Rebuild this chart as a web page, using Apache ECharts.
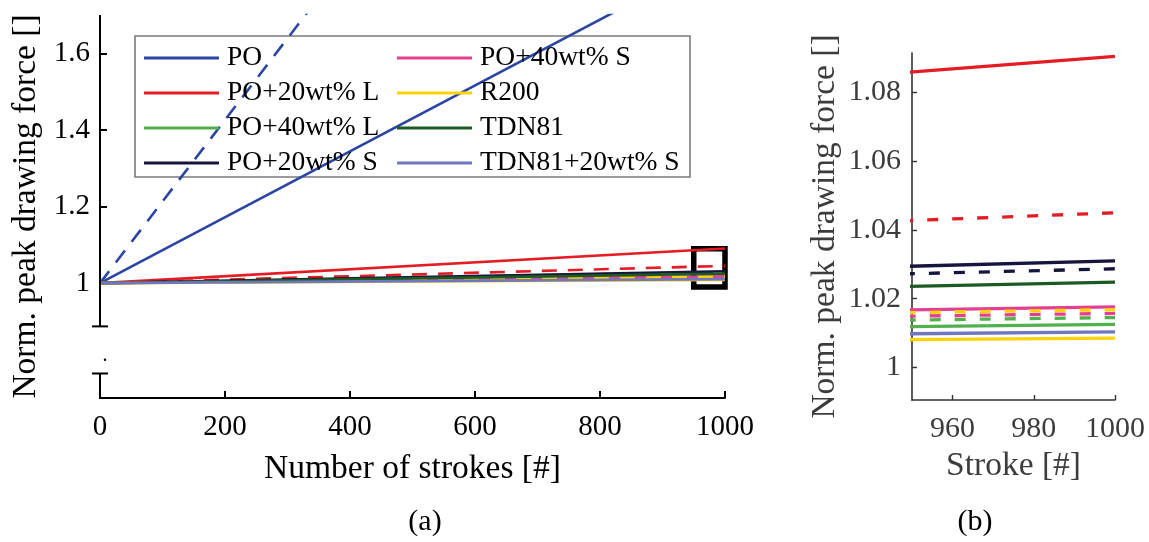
<!DOCTYPE html>
<html>
<head>
<meta charset="utf-8">
<script src="https://cdn.jsdelivr.net/npm/echarts@6/dist/echarts.min.js"></script>
<style>
  html, body { margin: 0; padding: 0; background: #fff; }
  #chart { width: 1149px; height: 542px; }
</style>
</head>
<body>
<div id="chart"></div>
<script>
// Stroke numbers at which the normalised peak drawing force is given
const strokes = [0, 1000];

// Materials (legend order) and their colours
const materials = ['PO', 'PO+20wt% L', 'PO+40wt% L', 'PO+20wt% S',
                   'PO+40wt% S', 'R200', 'TDN81', 'TDN81+20wt% S'];
const colors = ['#2b45a3', '#e41d24', '#52b04f', '#15153d',
                '#e3408f', '#fcd20a', '#1c5c22', '#7077c2'];

// Normalised peak drawing force at stroke 0 and stroke 1000 (solid curves)
const solidPO     = [1, 1.86];
const solidL20    = [1, 1.0905];
const solidL40    = [1, 1.0125];
const solidS20    = [1, 1.031];
const solidS40    = [1, 1.0176];
const solidR200   = [1, 1.0085];
const solidTDN    = [1, 1.0248];
const solidTDNS20 = [1, 1.0103];

// Dashed curves (no dashed curve for TDN81 and TDN81+20wt% S)
const dashedPO   = [1, 3.13];
const dashedL20  = [1, 1.045];
const dashedL40  = [1, 1.0145];
const dashedS20  = [1, 1.0287];
const dashedS40  = [1, 1.0157];
const dashedR200 = [1, 1.0168];

const solidSets  = [solidPO, solidL20, solidL40, solidS20, solidS40, solidR200, solidTDN, solidTDNS20];
const dashedSets = [dashedPO, dashedL20, dashedL40, dashedS20, dashedS40, dashedR200, null, null];

// Axis ranges and ticks
const xRangeA = [0, 1000];
const yRangeA = [0.7, 1.7];
const yTicksA = [1, 1.2, 1.4, 1.6];
const yBreakA = [0.764, 0.887];   // gap in the left axis of panel (a)
const yBreakDotA = 0.8;
const zoomX = [950, 1000];        // detail window framed in (a), enlarged in (b)
const zoomY = [0.99, 1.09];
const yRangeB = [0.9905, 1.0915];
const xTicksB = [960, 980, 1000];
const yTicksB = [1, 1.02, 1.04, 1.06, 1.08];

const FONT = "'Liberation Serif', 'Times New Roman', serif";
const GRAY = '#3c3c3c';
const plain = v => String(v);

const chart = echarts.init(document.getElementById('chart'), null, { renderer: 'canvas' });

function pairs(vals) { return strokes.map((s, i) => [s, vals[i]]); }

const series = [];
materials.forEach((name, i) => {
  [0, 1].forEach(panel => {
    const common = {
      type: 'line', name: name, xAxisIndex: panel, yAxisIndex: panel,
      symbol: 'none', silent: true, animation: false, clip: true
    };
    series.push(Object.assign({}, common, {
      data: pairs(solidSets[i]),
      lineStyle: { color: colors[i], width: panel ? 3.3 : 2.6, type: 'solid' },
      itemStyle: { color: colors[i] }
    }));
    if (dashedSets[i]) {
      series.push(Object.assign({}, common, {
        data: pairs(dashedSets[i]),
        lineStyle: { color: colors[i], width: panel ? 3.3 : 2.6,
                     type: panel ? [11, 14] : [15, 11] },
        itemStyle: { color: colors[i] }
      }));
    }
  });
});

// Frame in panel (a) marking the window enlarged in panel (b)
series.push({
  type: 'line', name: 'frame', xAxisIndex: 0, yAxisIndex: 0, data: [],
  silent: true, animation: false, clip: false, z: 5,
  markArea: {
    silent: true,
    itemStyle: { color: 'rgba(0,0,0,0)', borderColor: '#000', borderWidth: 5.5 },
    data: [[{ coord: [zoomX[0], zoomY[1]] }, { coord: [zoomX[1], zoomY[0]] }]]
  }
});

const legendCommon = {
  orient: 'vertical', top: 44, padding: 0, itemGap: 7,
  itemWidth: 75, itemHeight: 3, icon: 'rect', z: 6, selectedMode: false,
  textStyle: { fontFamily: FONT, fontSize: 27.5, color: '#000', lineHeight: 26,
               padding: [0, 0, 0, 3] }
};

const option = {
  backgroundColor: '#fff',
  animation: false,
  grid: [
    { left: 100, top: 15, width: 625, height: 383 },
    { left: 912, top: 53, width: 203, height: 347 }
  ],
  xAxis: [
    {
      type: 'value', gridIndex: 0, min: xRangeA[0], max: xRangeA[1], interval: 200,
      name: 'Number of strokes [#]', nameLocation: 'middle', nameGap: 54,
      nameTextStyle: { fontFamily: FONT, fontSize: 33.5, color: '#000' },
      axisLine: { show: true, onZero: false, lineStyle: { color: '#000', width: 2 } },
      axisTick: { show: true, inside: true, length: 7, lineStyle: { color: '#000', width: 2 } },
      axisLabel: { fontFamily: FONT, fontSize: 29, color: '#000', margin: 15, formatter: plain },
      splitLine: { show: false }
    },
    {
      type: 'value', gridIndex: 1, min: zoomX[0], max: zoomX[1],
      name: 'Stroke [#]', nameLocation: 'middle', nameGap: 46,
      nameTextStyle: { fontFamily: FONT, fontSize: 33.5, color: GRAY },
      axisLine: { show: true, onZero: false, lineStyle: { color: '#333', width: 1.6 } },
      axisTick: { show: true, inside: true, length: 5, customValues: xTicksB,
                  lineStyle: { color: '#333', width: 1.4 } },
      axisLabel: { fontFamily: FONT, fontSize: 30, color: GRAY, margin: 14,
                   customValues: xTicksB, formatter: plain },
      splitLine: { show: false }
    }
  ],
  yAxis: [
    {
      type: 'value', gridIndex: 0, min: yRangeA[0], max: yRangeA[1],
      name: 'Norm. peak drawing force []', nameLocation: 'middle', nameGap: 56,
      nameTextStyle: { fontFamily: FONT, fontSize: 33.5, color: '#000' },
      axisLine: { show: false },
      axisTick: { show: true, inside: true, length: 7, customValues: yTicksA,
                  lineStyle: { color: '#000', width: 2 } },
      axisLabel: { fontFamily: FONT, fontSize: 29, color: '#000', margin: 10,
                   customValues: yTicksA, formatter: plain },
      splitLine: { show: false }
    },
    {
      type: 'value', gridIndex: 1, min: yRangeB[0], max: yRangeB[1],
      name: 'Norm. peak drawing force []', nameLocation: 'middle', nameGap: 70,
      nameTextStyle: { fontFamily: FONT, fontSize: 33.5, color: GRAY },
      axisLine: { show: true, onZero: false, lineStyle: { color: '#333', width: 1.6 } },
      axisTick: { show: true, inside: true, length: 5, customValues: yTicksB,
                  lineStyle: { color: '#333', width: 1.4 } },
      axisLabel: { fontFamily: FONT, fontSize: 30, color: GRAY, margin: 11,
                   customValues: yTicksB, formatter: plain },
      splitLine: { show: false }
    }
  ],
  legend: [
    Object.assign({}, legendCommon, { left: 144, data: materials.slice(0, 4) }),
    Object.assign({}, legendCommon, { left: 397, data: materials.slice(4) })
  ],
  series: series
};

chart.setOption(option);

// Broken left axis of panel (a), legend frame and panel captions
function px(x, y) { return chart.convertToPixel({ gridIndex: 0 }, [x, y]); }
const pTop = px(xRangeA[0], yRangeA[1]);
const pBreakHi = px(xRangeA[0], yBreakA[1]);
const pBreakLo = px(xRangeA[0], yBreakA[0]);
const pBottom = px(xRangeA[0], yRangeA[0]);
const pDot = px(xRangeA[0], yBreakDotA);
const axisStyle = { stroke: '#000', lineWidth: 2 };

chart.setOption({
  graphic: [
    { type: 'line', z: 10, shape: { x1: pTop[0], y1: pTop[1], x2: pBreakHi[0], y2: pBreakHi[1] }, style: axisStyle },
    { type: 'line', z: 10, shape: { x1: pBreakLo[0], y1: pBreakLo[1], x2: pBottom[0], y2: pBottom[1] + 1 }, style: axisStyle },
    { type: 'line', z: 10, shape: { x1: pBreakHi[0] - 8, y1: pBreakHi[1], x2: pBreakHi[0] + 8, y2: pBreakHi[1] }, style: axisStyle },
    { type: 'line', z: 10, shape: { x1: pBreakLo[0] - 8, y1: pBreakLo[1], x2: pBreakLo[0] + 8, y2: pBreakLo[1] }, style: axisStyle },
    { type: 'circle', z: 10, shape: { cx: pDot[0] + 5, cy: pDot[1], r: 1.2 }, style: { fill: '#000' } },
    { type: 'rect', z: 3, shape: { x: 135, y: 36, width: 555, height: 141 },
      style: { fill: '#fff', stroke: '#7a7a7a', lineWidth: 1.6 } },
    { type: 'text', z: 10, x: 425, y: 522,
      style: { text: '(a)', font: "30px 'Liberation Serif', serif", fill: '#000',
               textAlign: 'center', textVerticalAlign: 'middle' } },
    { type: 'text', z: 10, x: 975, y: 522,
      style: { text: '(b)', font: "30px 'Liberation Serif', serif", fill: '#000',
               textAlign: 'center', textVerticalAlign: 'middle' } }
  ]
});
</script>
</body>
</html>
